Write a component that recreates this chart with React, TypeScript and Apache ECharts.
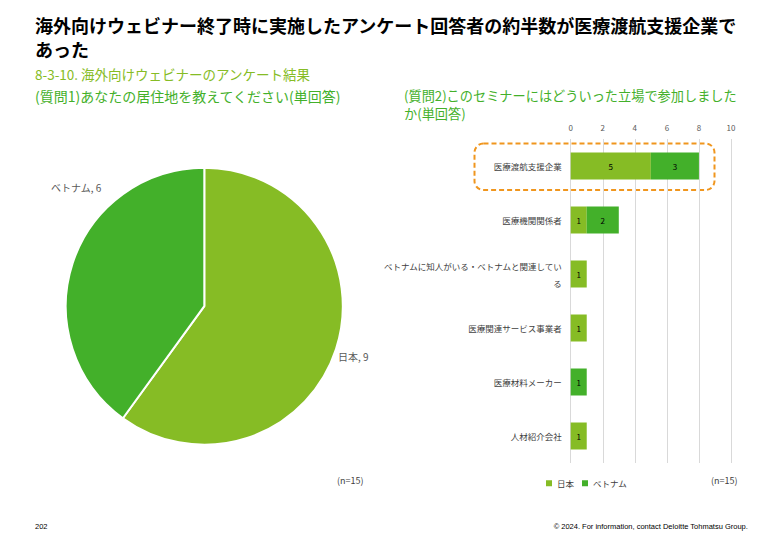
import React, { useEffect, useRef } from "react";
import * as echarts from "echarts";

const pieNames = ["日本", "ベトナム"];
const pieValues = [9, 6];

const categories = [
  "医療渡航支援企業",
  "医療機関関係者",
  "ベトナムに知人がいる・ベトナムと関連している",
  "医療関連サービス事業者",
  "医療材料メーカー",
  "人材紹介会社",
];
const japanValues = [5, 1, 1, 1, 0, 1];
const vietnamValues = [3, 2, 0, 0, 1, 0];
const xTicks = { min: 0, max: 10, interval: 2 };

const LIGHT = "#86bc25";
const DARK = "#43b02a";
const JP = '"Noto Sans CJK JP", "Noto Sans", sans-serif';

export default function App() {
  const ref = useRef<HTMLDivElement>(null);
  useEffect(() => {
    if (!ref.current) return;
    const chart = echarts.init(ref.current, null, { renderer: "svg" });
    const labelFmt = (p: any) => (p.value ? String(p.value) : "");
    const txt = (left: number, top: number, text: string, font: string, fill: string) => ({
      type: "text",
      left,
      top,
      style: { text, font, fill },
    });
    chart.setOption({
      animation: false,
      textStyle: { fontFamily: JP },
      color: [LIGHT, DARK],
      legend: {
        data: pieNames,
        left: 541,
        top: 474,
        icon: "rect",
        itemWidth: 6,
        itemHeight: 6,
        itemGap: 8,
        textStyle: { fontSize: 8.5, color: "#404040", fontFamily: JP },
        selectedMode: false,
      },
      grid: { left: 570.7, top: 139, width: 160.3, height: 324 },
      xAxis: {
        type: "value",
        position: "top",
        min: xTicks.min,
        max: xTicks.max,
        interval: xTicks.interval,
        axisLine: { show: false },
        axisTick: { show: false },
        axisLabel: { fontSize: 8, color: "#595959", margin: 8 },
        splitLine: { lineStyle: { color: "#d9d9d9", width: 1 } },
      },
      yAxis: {
        type: "category",
        inverse: true,
        data: categories,
        axisLine: { show: false },
        axisTick: { show: false },
        axisLabel: {
          fontSize: 8.5,
          color: "#404040",
          margin: 9,
          width: 180,
          overflow: "break",
          lineHeight: 17,
        },
      },
      series: [
        {
          type: "pie",
          center: [204.3, 306.2],
          radius: 138.5,
          startAngle: 90,
          clockwise: true,
          itemStyle: { borderColor: "#fff", borderWidth: 2 },
          label: {
            show: true,
            position: "outside",
            formatter: "{b}, {c}",
            fontSize: 10,
            color: "#595959",
            overflow: "none",
            width: 120,
          },
          labelLine: { show: false },
          labelLayout: (p: any) =>
            p.dataIndex === 0
              ? { x: 338, y: 356, align: "left", verticalAlign: "middle", width: 120 }
              : { x: 51, y: 187, align: "left", verticalAlign: "middle", width: 120 },
          data: pieNames.map((n, i) => ({
            name: n,
            value: pieValues[i],
            itemStyle: { color: i === 0 ? LIGHT : DARK },
          })),
        },
        {
          type: "bar",
          name: pieNames[0],
          stack: "a",
          barWidth: "50%",
          itemStyle: { color: LIGHT },
          label: { show: true, position: "inside", fontSize: 8, color: "#000", formatter: labelFmt },
          data: japanValues,
        },
        {
          type: "bar",
          name: pieNames[1],
          stack: "a",
          barWidth: "50%",
          itemStyle: { color: DARK },
          label: { show: true, position: "inside", fontSize: 8, color: "#000", formatter: labelFmt },
          data: vietnamValues,
        },
      ],
      graphic: [
        txt(35, 16, "海外向けウェビナー終了時に実施したアンケート回答者の約半数が医療渡航支援企業で", `bold 18px ${JP}`, "#000"),
        txt(35, 40, "あった", `bold 18px ${JP}`, "#000"),
        txt(35, 67, "8-3-10. 海外向けウェビナーのアンケート結果", `13.5px ${JP}`, LIGHT),
        txt(35, 89, "(質問1)あなたの居住地を教えてください(単回答)", `14px ${JP}`, DARK),
        txt(404, 89, "(質問2)このセミナーにはどういった立場で参加しました", `13.2px ${JP}`, DARK),
        txt(404, 107, "か(単回答)", `13.2px ${JP}`, DARK),
        {
          type: "rect",
          shape: { x: 474.5, y: 143.5, width: 240, height: 46.5, r: 9 },
          style: { fill: "none", stroke: "#f0961e", lineWidth: 2, lineDash: [5, 3] },
        },
        txt(337, 476, "(n=15)", `9px ${JP}`, "#404040"),
        txt(711, 476, "(n=15)", `9px ${JP}`, "#404040"),
        txt(35, 522, "202", `7.5px "Liberation Sans", sans-serif`, "#000"),
        {
          type: "text",
          right: 32,
          top: 522,
          style: {
            text: "© 2024. For information, contact Deloitte Tohmatsu Group.",
            font: `7.5px "Liberation Sans", sans-serif`,
            fill: "#000",
          },
        },
      ],
    });
    return () => chart.dispose();
  }, []);
  return (
    <div
      ref={ref}
      style={{ position: "fixed", left: 0, top: 0, width: 780, height: 540, background: "#fff" }}
    />
  );
}
